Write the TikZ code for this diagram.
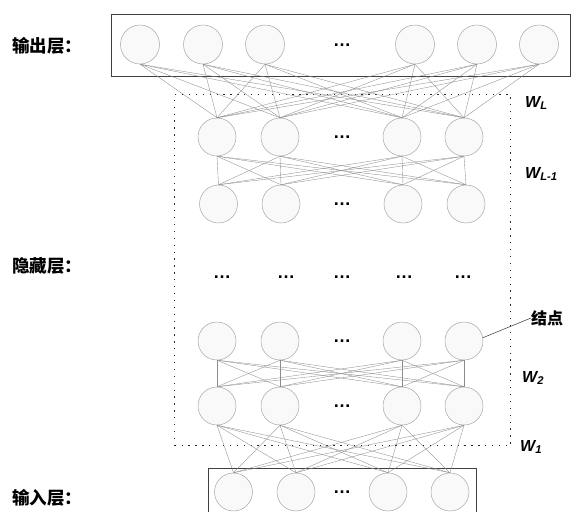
\documentclass[tikz,border=0pt]{standalone}
\usepackage{fontspec}
\setmainfont{Liberation Sans}
\newfontfamily\cjk{Noto Sans CJK SC}
\begin{document}
\begin{tikzpicture}[x=1pt,y=-1pt,
  neuron/.style={circle,draw=gray!70,line width=0.5pt,fill=gray!5,minimum size=38pt,inner sep=0pt},
  conn/.style={draw=gray!90,line width=0.35pt},
  lbl/.style={font=\cjk\bfseries\fontsize{17.5}{19}\selectfont,anchor=west,inner sep=0pt},
  wlbl/.style={font=\bfseries\itshape\fontsize{16}{18}\selectfont,anchor=west,inner sep=0pt},
  dotsn/.style={font=\bfseries\fontsize{18}{18}\selectfont,inner sep=0pt},
  layerbox/.style={draw=black!75,line width=1pt}]
\useasboundingbox (0,0) rectangle (571,512);
% boxes
\node[layerbox,minimum width=459pt,minimum height=62pt,anchor=north west,inner sep=0pt] (obox) at (111,14) {};
\node[layerbox,minimum width=268pt,minimum height=60pt,anchor=north west,inner sep=0pt] (ibox) at (208,468) {};
\node[draw=black!85,line width=1.3pt,dash pattern=on 1.3pt off 5.6pt,minimum width=336pt,minimum height=351pt,anchor=north west,inner sep=0pt] (hbox) at (174,94) {};
% output layer
\foreach \i/\x in {1/140,2/203,3/265,4/415,5/477,6/539}
  \node[neuron,minimum size=39pt] (o\i) at (\x,44.5) {};
\node[dotsn] (od) at (342,45) {…};
% hidden rows
\foreach \i/\x in {1/217,2/280,3/402,4/464}
  \node[neuron] (a\i) at (\x,137) {};
\foreach \i/\x in {1/218.5,2/281,3/403,4/466}
  \node[neuron] (b\i) at (\x,204) {};
\foreach \i/\x in {1/217,2/280,3/402,4/464}
  \node[neuron] (c\i) at (\x,341) {};
\foreach \i/\x in {1/217,2/280,3/402,4/464}
  \node[neuron] (d\i) at (\x,406) {};
\foreach \i/\x in {1/233.5,2/296,3/388,4/450}
  \node[neuron] (n\i) at (\x,492) {};
\node[dotsn] (ad) at (342,137) {…};
\node[dotsn] (bd) at (342,204) {…};
\node[dotsn] (cd) at (342,341) {…};
\node[dotsn] (dd) at (342,406) {…};
\node[dotsn] (nd) at (342,492) {…};
\foreach \i/\x in {1/222,2/286,3/342,4/404,5/463}
  \node[dotsn] (m\i) at (\x,277) {…};
% connections
\foreach \i in {1,...,6}
  \foreach \j in {1,...,4}
    \draw[conn] (o\i.south) -- (a\j.north);
\foreach \i in {1,...,4}
  \foreach \j in {1,...,4}
    {\draw[conn] (a\i.south) -- (b\j.north);
     \draw[conn] (c\i.south) -- (d\j.north);
     \draw[conn] (d\i.south) -- (n\j.north);}
% labels
\node[lbl] (lo) at (12,45.5) {输出层：};
\node[lbl] (lh) at (12,266) {隐藏层：};
\node[lbl] (li) at (12,498) {输入层：};
\node[wlbl] (wL) at (525,103) {W\textsubscript{L}};
\node[wlbl] (wL1) at (525,174) {W\textsubscript{L-1}};
\node[wlbl] (w2) at (522,378) {W\textsubscript{2}};
\node[wlbl] (w1) at (520,447) {W\textsubscript{1}};
\node[lbl,font=\cjk\bfseries\fontsize{16}{17}\selectfont] (jd) at (531,318) {结点};
\draw[draw=black!80,line width=0.5pt] (c4.10) -- (jd.west);
\end{tikzpicture}
\end{document}
